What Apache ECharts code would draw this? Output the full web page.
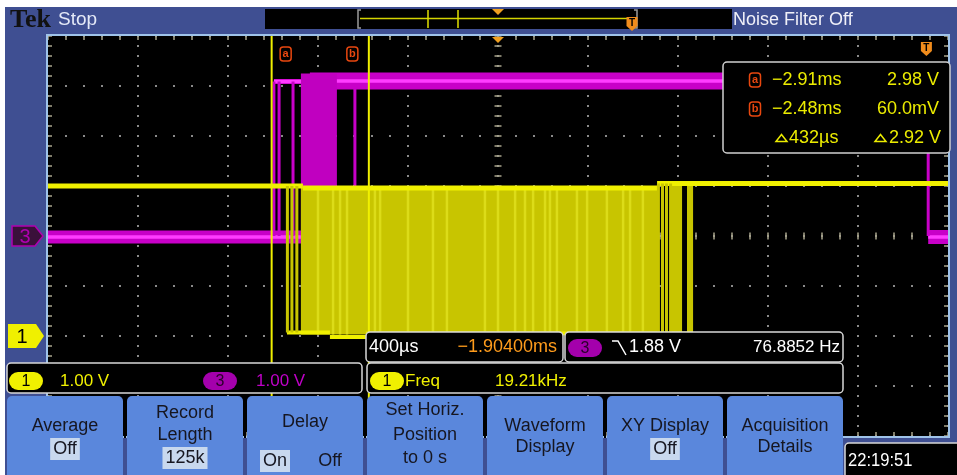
<!DOCTYPE html>
<html>
<head>
<meta charset="utf-8">
<script src="https://cdn.jsdelivr.net/npm/echarts@6/dist/echarts.min.js"></script>
<style>
  html, body { margin: 0; padding: 0; background: #fff; }
  #scope { width: 957px; height: 475px; }
</style>
</head>
<body>
<div id="scope"></div>
<script>
// ---- Acquisition settings ----
const timePerDiv = 0.4;          // ms per division (400 µs/div)
const horizPosition = -1.904;    // ms at screen centre, relative to trigger
const voltsPerDiv = [1.0, 1.0];  // CH1, CH3
const groundDiv = [-2, 0];       // ground marker, divisions from screen centre

// ---- CH1 (yellow) ----
// steady levels: [start ms, end ms, level V, noise ± V]
const ch1Levels = [
  [-3.904, -2.771, 3.00, 0.05],
  [-2.771, -1.197, 2.96, 0.05],
  [-1.197, 0.096, 3.05, 0.05],
  [-2.842, -2.651, 0.07, 0.04],
  [-2.651, -2.491, -0.02, 0.04],
  [-2.491, -1.037, 0.05, 0.04]
];
// dense toggling: [start ms, end ms, low V, high V]
const ch1Bursts = [
  [-2.780, -1.197, 0.03, 2.96],
  [-1.131, -1.086, 0.05, 3.02],
  [-1.064, -1.037, 0.05, 3.02]
];
// brighter edges inside the main burst, ms
const ch1BurstEdges = [-2.704, -2.637, -2.606, -2.575, -2.451, -2.428, -2.304, -2.193, -2.131,
  -1.962, -1.904, -1.828, -1.784, -1.748, -1.695, -1.673, -1.642, -1.553, -1.508,
  -1.420, -1.348, -1.317, -1.260];
// isolated low pulses: [time ms, low V, high V]
const ch1Pulses = [
  [-2.840, 0.07, 3.00], [-2.820, 0.07, 3.00], [-2.798, 0.07, 3.00],
  [-1.191, 0.05, 3.05], [-1.173, 0.05, 3.05], [-1.155, 0.05, 3.05], [-1.137, 0.05, 3.05]
];

// ---- CH3 (magenta) ----
const ch3Levels = [
  [-3.904, -2.776, -0.02, 0.13],
  [-2.900, -2.740, 3.09, 0.05],
  [-2.740, 0.008, 3.10, 0.17],
  [0.008, 0.096, -0.02, 0.14]
];
const ch3Bursts = [[-2.780, -2.620, 0.0, 3.25]];
const ch3Edges = [
  [-2.900, 0.0, 3.09], [-2.877, 0.0, 3.09], [-2.815, 0.0, 3.09], [-2.540, 0.0, 3.0], [0.008, 0.0, 3.1]
];

// ---- Cursors and readouts ----
const cursorTimes = [-2.910, -2.478];   // ms, cursors a / b
const cursorVolts = [2.98, 0.060];      // V on CH1 at each cursor
const ch1FreqKHz = 19.21;
const trigLevel = 1.88;
const trigFreqHz = 76.8852;
const clockText = '22:19:51';
const menuButtons = [
  { lines: ['Average'], value: 'Off' },
  { lines: ['Record', 'Length'], value: '125k' },
  { lines: ['Delay'], options: ['On', 'Off'], selected: 0 },
  { lines: ['Set Horiz.', 'Position', 'to 0 s'] },
  { lines: ['Waveform', 'Display'] },
  { lines: ['XY Display'], value: 'Off' },
  { lines: ['Acquisition', 'Details'] }
];

// ---- Colours ----
const FONT = '"Liberation Sans", Arial, sans-serif';
const FRAME = '#3f4f92', BUTTON = '#5a87dc', BORDER = '#9fc3ea';
const DOT = '#8a8a8a', TICK = '#a9a58c';
const YEL = '#f0f000', YEL_FILL = '#c8c500', YEL_STRIPE = '#dcdc18';
const MAG = '#c800c8', MAG_CORE = '#ff3cff', MAG_FILL = '#c000c0';
const ORANGE = '#ff9c1c', MARK = '#f08c1c', ICON = '#e8470f', READ = '#ecec00';

const xMin = horizPosition - 5 * timePerDiv;
const xMax = horizPosition + 5 * timePerDiv;
const vRange = ch => [(-4 - groundDiv[ch]) * voltsPerDiv[ch], (4 - groundDiv[ch]) * voltsPerDiv[ch]];

// ---- Trace renderers ----
function band(color, core) {
  return function (params, api) {
    const s = core != null ? Math.min(core, api.value(3)) : api.value(3);
    const a = api.coord([api.value(0), api.value(2) + s]);
    const b = api.coord([api.value(1), api.value(2) - s]);
    return { type: 'rect', shape: { x: a[0], y: a[1], width: b[0] - a[0], height: Math.max(b[1] - a[1], 1.5) },
      style: { fill: color } };
  };
}
function burst(color) {
  return function (params, api) {
    const a = api.coord([api.value(0), api.value(3)]);
    const b = api.coord([api.value(1), api.value(2)]);
    return { type: 'rect', shape: { x: a[0], y: a[1], width: Math.max(b[0] - a[0], 1), height: b[1] - a[1] },
      style: { fill: color } };
  };
}
function edge(color, width) {
  return function (params, api) {
    const a = api.coord([api.value(0), api.value(2)]);
    const b = api.coord([api.value(0), api.value(1)]);
    return { type: 'line', shape: { x1: a[0], y1: a[1], x2: b[0], y2: b[1] },
      style: { stroke: color, lineWidth: width } };
  };
}
function trace(name, yIdx, data, renderItem) {
  return { type: 'custom', name, xAxisIndex: 0, yAxisIndex: yIdx, data, renderItem,
    clip: true, silent: true, animation: false, encode: { x: 0, y: 2 } };
}

// ---- Graticule axes ----
function divAxis(extra) {
  return Object.assign({
    type: 'value', silent: true,
    axisLine: { show: false, onZero: false }, axisLabel: { show: false },
    axisTick: { show: false }, splitLine: { show: false }
  }, extra);
}
const tickStyle = (len) => ({ show: true, inside: true, length: len, lineStyle: { color: TICK, width: 1.5 } });

const ch1R = vRange(0), ch3R = vRange(1);

const option = {
  backgroundColor: '#fff',
  animation: false,
  grid: { left: 48, top: 36, width: 900, height: 400, show: false, outerBoundsMode: 'none' },
  xAxis: [
    { type: 'value', min: xMin, max: xMax, show: false, axisLine: { onZero: false } },
    divAxis({ min: 0, max: 10, interval: 1,
      splitLine: { show: true, lineStyle: { color: DOT, width: 2, type: [2, 8], dashOffset: 1 } } }),
    divAxis({ min: 0, max: 10, interval: 0.2, position: 'top', axisTick: tickStyle(4) }),
    divAxis({ min: 0, max: 10, interval: 0.2, position: 'bottom', axisTick: tickStyle(4) }),
    divAxis({ min: 0, max: 10, interval: 0.2, position: 'bottom', offset: -196.5, axisTick: tickStyle(7) })
  ],
  yAxis: [
    { type: 'value', min: ch1R[0], max: ch1R[1], show: false, axisLine: { onZero: false } },
    { type: 'value', min: ch3R[0], max: ch3R[1], show: false, axisLine: { onZero: false } },
    divAxis({ min: 0, max: 8, interval: 1,
      splitLine: { show: true, lineStyle: { color: DOT, width: 2, type: [2, 16], dashOffset: 1 } } }),
    divAxis({ min: 0, max: 8, interval: 0.2, position: 'left', axisTick: tickStyle(4) }),
    divAxis({ min: 0, max: 8, interval: 0.2, position: 'right', axisTick: tickStyle(4) }),
    divAxis({ min: 0, max: 8, interval: 0.2, position: 'left', offset: -446.5, axisTick: tickStyle(7) })
  ],
  series: [
    trace('CH3 level', 1, ch3Levels, band(MAG)),
    trace('CH3 level core', 1, ch3Levels, band(MAG_CORE, 0.035)),
    trace('CH3 burst', 1, ch3Bursts, burst(MAG_FILL)),
    trace('CH3 edges', 1, ch3Edges, edge(MAG, 3)),
    trace('CH1 burst', 0, ch1Bursts, burst(YEL_FILL)),
    trace('CH1 burst edges', 0, ch1BurstEdges.map(t => [t, ch1Bursts[0][2], ch1Bursts[0][3]]), edge(YEL_STRIPE, 2.5)),
    trace('CH1 level', 0, ch1Levels, band(YEL)),
    trace('CH1 pulses', 0, ch1Pulses, edge(YEL_FILL, 3)),
    trace('Cursors', 0, cursorTimes.map(t => [t, ch1R[0], ch1R[1]]), edge('#f0f000', 2))
  ]
};

const chart = echarts.init(document.getElementById('scope'), null, { renderer: 'canvas' });
chart.setOption(option);

// ---- Screen furniture ----
function gText(x, y, text, o) {
  o = o || {};
  const align = o.align || 'left';
  const style = {
    text, fill: o.color || '#fff',
    font: (o.weight || 'normal') + ' ' + (o.size || 17) + 'px ' + (o.family || FONT),
    align, textAlign: align, verticalAlign: 'middle', textVerticalAlign: 'middle'
  };
  if (o.bg) { style.backgroundColor = o.bg; style.padding = o.pad || [2, 3, 1, 3]; }
  return { type: 'text', x, y, z: o.z || 110, scaleX: o.sx || 1, silent: true, style };
}
function gRect(x, y, w, h, o) {
  return { type: 'rect', z: o.z != null ? o.z : 100, silent: true, shape: { x, y, width: w, height: h, r: o.r || 0 },
    style: { fill: o.fill || 'none', stroke: o.stroke || null, lineWidth: o.lw || 1 } };
}
function gPoly(points, o) {
  return { type: o.open ? 'polyline' : 'polygon', z: o.z || 105, silent: true, shape: { points },
    style: { fill: o.fill || 'none', stroke: o.stroke || null, lineWidth: o.lw || 1 } };
}
function gLine(x1, y1, x2, y2, color, lw, z) {
  return { type: 'line', z: z || 105, silent: true, shape: { x1, y1, x2, y2 }, style: { stroke: color, lineWidth: lw } };
}
function tMarker(x, y) {   // orange trigger flag with a "T"
  return [
    gPoly([[x - 5.5, y], [x + 5.5, y], [x + 5.5, y + 9], [x, y + 14], [x - 5.5, y + 9]], { fill: MARK, z: 106 }),
    gText(x, y + 6, 'T', { size: 10, weight: 'bold', color: '#000', align: 'center', z: 107 })
  ];
}
function cursorIcon(x, y, letter) {
  return [
    gRect(x - 5.5, y - 7, 11, 14, { stroke: ICON, lw: 1.5, r: 3, z: 106 }),
    gText(x, y, letter, { size: 11, weight: 'bold', color: ICON, align: 'center', z: 107 })
  ];
}
function pill(x, y, label, fill, txt) {
  return [
    gRect(x, y, 34, 18, { fill, r: 9, z: 104 }),
    gText(x + 17, y + 9.5, label, { size: 16, color: txt, align: 'center', z: 111 })
  ];
}
function delta(x, y, color) {
  return gPoly([[x, y + 3.5], [x + 5.5, y - 3.5], [x + 11, y + 3.5]], { stroke: color, lw: 1.5, z: 110 });
}
const minus = '\u2212';
const fmtMs = v => (v < 0 ? minus : '') + Math.abs(v).toFixed(2) + 'ms';
const fmtV = v => Math.abs(v) >= 1 ? v.toFixed(2) + ' V' : (v * 1000).toFixed(1) + 'mV';
const px = t => chart.convertToPixel({ xAxisIndex: 0 }, t);
const py = (idx, v) => chart.convertToPixel({ yAxisIndex: idx }, v);

const els = [];
// frame and screen
els.push(gRect(5, 7, 952, 468, { fill: FRAME, z: -100 }));
els.push(gRect(48, 36, 900, 400, { fill: '#000', z: -90 }));
els.push(gRect(47, 35, 902, 402, { stroke: BORDER, lw: 2, z: 40 }));

// top status bar
els.push(gText(10, 20, 'Tek', { size: 26, weight: 'bold', family: '"Liberation Serif", serif', color: '#111' }));
els.push(gText(58, 20, 'Stop', { size: 19, color: '#e4e9f7' }));
els.push(gRect(265, 9, 467, 20, { fill: '#000' }));
els.push(gPoly([[361, 10], [358, 10], [358, 28], [361, 28]], { open: true, stroke: '#9a9a9a', lw: 1.5 }));
els.push(gPoly([[634, 10], [637, 10], [637, 28], [634, 28]], { open: true, stroke: '#9a9a9a', lw: 1.5 }));
els.push(gLine(360, 18.5, 636, 18.5, '#d4d400', 1.5));
els.push(gLine(428, 10, 428, 28, '#e0e000', 1.5));
els.push(gLine(458, 10, 458, 28, '#e0e000', 1.5));
els.push(gPoly([[492, 9], [504, 9], [498, 15]], { fill: '#f0a020' }));
els.push(...tMarker(632, 17));
els.push(gText(733, 20, 'Noise Filter Off', { size: 18, color: '#f0f0f8' }));

// markers on the graticule
const xCentre = px(horizPosition);
els.push(gPoly([[xCentre - 6, 37], [xCentre + 6, 37], [xCentre, 43]], { fill: '#f0a020' }));
els.push(...tMarker(px(0), 42));
const xa = px(cursorTimes[0]), xb = px(cursorTimes[1]);
els.push(...cursorIcon(xa + 14, 54, 'a'));
els.push(...cursorIcon(xb - 16.5, 54, 'b'));

// ground markers
const y3 = py(1, 0), y1 = py(0, 0);
els.push(gPoly([[12, y3 - 10], [35, y3 - 10], [43, y3], [35, y3 + 10], [12, y3 + 10]],
  { fill: '#3a103a', stroke: '#b000b0', lw: 1.5 }));
els.push(gText(25, y3 + 1, '3', { size: 20, color: '#b000b0', align: 'center' }));
els.push(gPoly([[8, y1 - 12], [36, y1 - 12], [44, y1], [36, y1 + 12], [8, y1 + 12]], { fill: '#f0f000' }));
els.push(gText(22, y1 + 1, '1', { size: 20, color: '#000', align: 'center' }));

// cursor readout
els.push(gRect(723, 62, 227, 91, { fill: '#000', stroke: '#d0d0d0', lw: 1.5, r: 4 }));
const rows = [80, 109, 138];
['a', 'b'].forEach((l, i) => {
  els.push(...cursorIcon(755, rows[i], l));
  els.push(gText(772, rows[i], fmtMs(cursorTimes[i]), { size: 18, color: READ }));
  els.push(gText(939, rows[i], fmtV(cursorVolts[i]), { size: 18, color: READ, align: 'right' }));
});
els.push(delta(776, rows[2], READ));
els.push(gText(789, rows[2], Math.round((cursorTimes[1] - cursorTimes[0]) * 1000) + 'µs', { size: 18, color: READ }));
els.push(delta(875, rows[2], READ));
els.push(gText(941, rows[2], fmtV(cursorVolts[0] - cursorVolts[1]), { size: 18, color: READ, align: 'right' }));

// horizontal and trigger readouts
const panel = { fill: '#000', stroke: '#d8d8d8', lw: 1.5, r: 4 };
els.push(gRect(366, 332, 197, 30, panel));
els.push(gText(369, 347, Math.round(timePerDiv * 1000) + 'µs', { size: 18 }));
els.push(gText(557, 347, minus + Math.abs(horizPosition).toFixed(5) + 'ms', { size: 18, color: ORANGE, align: 'right' }));
els.push(gRect(565, 332, 278, 30, panel));
els.push(...pill(568, 339, '3', '#a400ac', '#2a002a'));
els.push(gPoly([[612, 341], [618, 341], [626, 355]], { open: true, stroke: '#fff', lw: 1.5, z: 110 }));
els.push(gText(629, 347, trigLevel.toFixed(2) + ' V', { size: 18 }));
els.push(gText(840, 347, trigFreqHz.toFixed(4) + ' Hz', { size: 17, align: 'right' }));

// channel scale and measurement
els.push(gRect(7, 363, 355, 30, panel));
els.push(...pill(9, 372, '1', '#f0f000', '#000'));
els.push(gText(60, 381, voltsPerDiv[0].toFixed(2) + ' V', { size: 17, color: '#f0f000' }));
els.push(...pill(203, 372, '3', '#a400ac', '#2a002a'));
els.push(gText(256, 381, voltsPerDiv[1].toFixed(2) + ' V', { size: 17, color: '#c000c8' }));
els.push(gRect(367, 363, 476, 30, panel));
els.push(...pill(370, 372, '1', '#f0f000', '#000'));
els.push(gText(405, 381, 'Freq', { size: 17, color: '#f0f000' }));
els.push(gText(495, 381, ch1FreqKHz.toFixed(2) + 'kHz', { size: 17, color: '#f0f000' }));

// soft-key menu
menuButtons.forEach((b, i) => {
  const x = 7 + 120 * i, cx = x + 58;
  els.push(gRect(x, 396, 116, 79, { fill: BUTTON, r: [5, 5, 0, 0] }));
  if (i > 0) els.push(gLine(x - 2, 396, x - 2, 438, '#000', 2, 101));
  const n = b.lines.length;
  let ys;
  if (b.options) ys = [422];
  else if (b.value) ys = n === 1 ? [426] : [413, 435];
  else ys = n === 3 ? [410, 435, 458] : [426, 447];
  b.lines.forEach((t, k) => els.push(gText(cx, ys[k], t, { size: 18, color: '#161620', align: 'center' })));
  if (b.value) {
    const vy = n === 1 ? 449 : 458;
    els.push(gText(cx, vy, b.value, { size: 18, color: '#161620', align: 'center', bg: '#c8d8ee', pad: [3, 3, 1, 3] }));
  }
  if (b.options) {
    els.push(gText(cx - 30, 461, b.options[0], { size: 18, color: '#161620', align: 'center', bg: '#c8d8ee', pad: [3, 3, 1, 3] }));
    els.push(gText(cx + 25, 461, b.options[1], { size: 18, color: '#161620', align: 'center' }));
  }
});

// clock
els.push(gRect(845, 443, 113, 33, { fill: '#000', stroke: '#d8d8d8', lw: 1.5, r: [4, 0, 0, 0] }));
els.push(gText(848, 461, clockText, { size: 18, sx: 0.92 }));

chart.setOption({ graphic: { elements: els } });
</script>
</body>
</html>
